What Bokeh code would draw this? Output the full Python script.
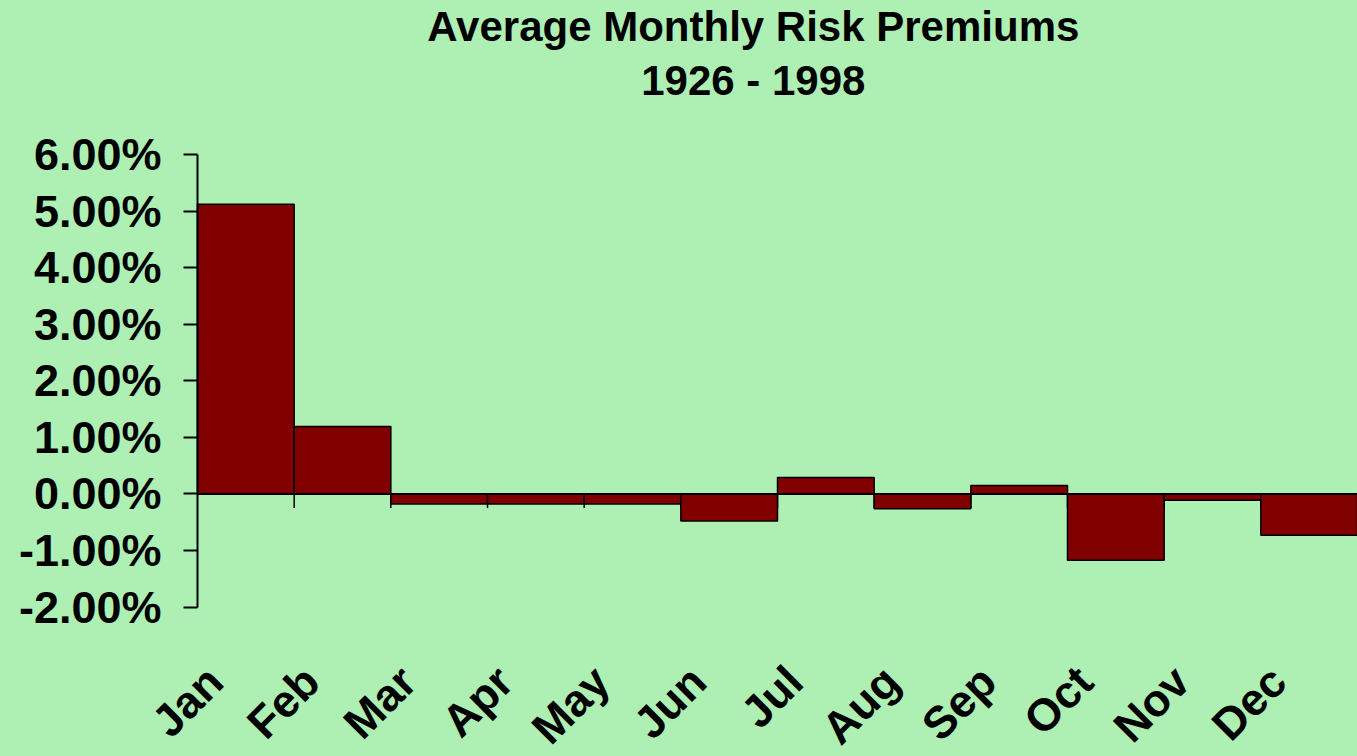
import math
from bokeh.plotting import figure
from bokeh.models import Range1d, FixedTicker, PrintfTickFormatter, Label, ColumnDataSource
from bokeh.core.properties import value
from bokeh.embed import file_html
from bokeh.resources import INLINE

# ---- data ----
months = ["Jan", "Feb", "Mar", "Apr", "May", "Jun",
          "Jul", "Aug", "Sep", "Oct", "Nov", "Dec"]
premiums = [5.12, 1.19, -0.18, -0.18, -0.18, -0.48,
            0.29, -0.26, 0.15, -1.17, -0.11, -0.73]   # percent
y_ticks = [-2, -1, 0, 1, 2, 3, 4, 5, 6]
title_line1 = "Average Monthly Risk Premiums"
title_line2 = "1926 - 1998"

BG = "#AEF0B4"
BAR = "#800000"
FONT = "Liberation Sans"

n = len(months)
centers = [i + 0.5 for i in range(n)]
label_pos = [i + 0.18 for i in range(n)]
boundaries = [i for i in range(1, n)]
label_y = -3.18        # baseline of the rotated month labels (below the axis)
title_x = 5.75
title_y = [8.26, 7.30]

p = figure(width=1357, height=756,
           x_range=Range1d(-2.038, n), y_range=Range1d(-4.641, 8.722),
           output_backend="svg", toolbar_location=None, x_axis_location=None,
           min_border_left=0, min_border_right=0,
           min_border_top=0, min_border_bottom=0,
           background_fill_color=BG, border_fill_color=BG,
           outline_line_color=None)
p.styles = {"background-color": BG}
p.grid.visible = False

# tick marks below the zero line at category boundaries
tick_len = 0.25
p.segment(x0=boundaries, y0=[0] * len(boundaries),
          x1=boundaries, y1=[-tick_len] * len(boundaries),
          line_color="black", line_width=1.5)

src = ColumnDataSource(dict(x=centers, top=premiums))
p.vbar(x="x", top="top", bottom=0, width=1.0, source=src,
       fill_color=BAR, line_color="black", line_width=1.5)

# zero line across the categories
p.segment(x0=[0], y0=[0], x1=[n], y1=[0], line_color="black", line_width=2)

# y axis, fixed at the start of the categories
ya = p.yaxis[0]
ya.fixed_location = 0
ya.bounds = (-2, 6)
ya.ticker = FixedTicker(ticks=y_ticks)
ya.formatter = PrintfTickFormatter(format="%.2f%%")
ya.axis_line_color = "black"
ya.axis_line_width = 2
ya.major_tick_line_color = "black"
ya.major_tick_line_width = 2
ya.major_tick_out = 14
ya.major_tick_in = 0
ya.minor_tick_line_color = None
ya.major_label_standoff = 22
ya.major_label_text_font = FONT
ya.major_label_text_font_style = "bold"
ya.major_label_text_font_size = "45px"
ya.major_label_text_color = "black"

# rotated month labels
p.text(x=label_pos, y=[label_y] * n, text=months, angle=math.pi / 4,
       text_align="right", text_baseline="alphabetic",
       text_font=value(FONT), text_font_style="bold", text_font_size="45px",
       text_color="black")

# two-line title
for txt, ty in zip([title_line1, title_line2], title_y):
    p.add_layout(Label(x=title_x, y=ty, text=txt, text_align="center",
                       text_baseline="alphabetic",
                       text_font=FONT, text_font_style="bold",
                       text_font_size="42px", text_color="black"))

open("out.html", "w").write(file_html(p, INLINE))
